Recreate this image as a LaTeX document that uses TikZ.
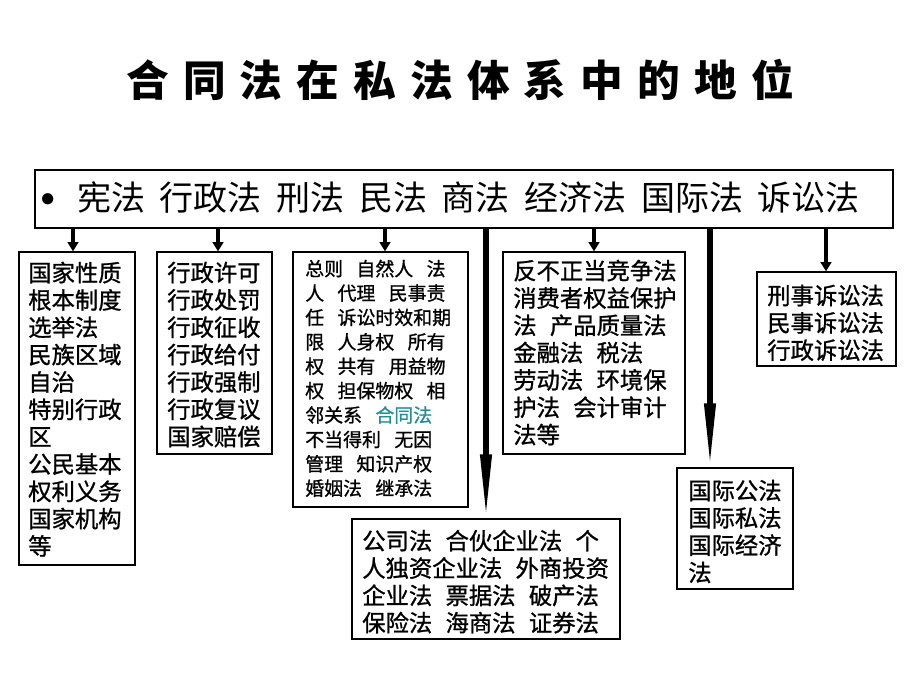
\documentclass[tikz,border=0pt]{standalone}
\usepackage{fontspec}
\setmainfont{Noto Sans CJK SC}
\newfontfamily\boxfont{Noto Sans CJK SC}[FakeBold=1]
\usetikzlibrary{arrows.meta,fit}
\definecolor{hetong}{RGB}{38,140,150}
\newcommand\gap{\hspace{10pt}}
\newcommand\mgap{\hspace{11pt}}
\newcommand\tgap{\hspace{10.6pt}}
\begin{document}
\begin{tikzpicture}[x=0.75pt,y=-0.75pt,
  box/.style={draw=black, line width=0.9pt, inner sep=0pt},
  mainbox/.style={draw=black, line width=1.1pt, inner sep=0pt},
  txt/.style={inner sep=0pt, anchor=north west, align=left, font=\boxfont\fontsize{17.5pt}{20.5pt}\selectfont},
  smalltxt/.style={inner sep=0pt, anchor=north west, align=left, font=\boxfont\fontsize{14.2pt}{18.3pt}\selectfont},
  sarr/.style={line width=2.4pt, -{Triangle[length=7pt,width=8pt]}},
  barr/.style={line width=3.8pt, -{Triangle[length=48pt,width=8pt]}}]
\useasboundingbox (0,0) rectangle (920,690);
% title
\node[font=\fontsize{32pt}{36pt}\selectfont\bfseries, inner sep=0pt] (title) at (460,80)
  {合\tgap 同\tgap 法\tgap 在\tgap 私\tgap 法\tgap 体\tgap 系\tgap 中\tgap 的\tgap 地\tgap 位};
% main box
\node[mainbox, fit={(35,170) (893,228)}] (main) {};
\node[inner sep=0pt, font=\fontsize{40pt}{44pt}\selectfont] (bullet) at (48,207) {•};
\node[inner sep=0pt, anchor=west, font=\fontsize{25.5pt}{28pt}\selectfont] (maintext) at (77,198)
  {宪法\mgap 行政法\mgap 刑法\mgap 民法\mgap 商法\mgap 经济法\mgap 国际法\mgap 诉讼法};
% boxes
\node[box, fit={(19,252) (135,565)}] (b1) {};
\node[txt] (t1) at (28,261.5) {国家性质\\根本制度\\选举法\\民族区域\\自治\\特别行政\\区\\公民基本\\权利义务\\国家机构\\等};
\node[box, fit={(157,252) (272,454)}] (b2) {};
\node[txt] (t2) at (167,261.5) {行政许可\\行政处罚\\行政征收\\行政给付\\行政强制\\行政复议\\国家赔偿};
\node[box, fit={(293,252) (468,507)}] (b3) {};
\node[smalltxt] (t3) at (305,259.5) {总则\gap 自然人\gap 法\\人\gap 代理\gap 民事责\\任\gap 诉讼时效和期\\限\gap 人身权\gap 所有\\权\gap 共有\gap 用益物\\权\gap 担保物权\gap 相\\邻关系\gap \textcolor{hetong}{合同法}\\不当得利\gap 无因\\管理\gap 知识产权\\婚姻法\gap 继承法};
\node[box, fit={(503,252) (685,454)}] (b4) {};
\node[txt] (t4) at (513,259.5) {反不正当竞争法\\消费者权益保护\\法\gap 产品质量法\\金融法\gap 税法\\劳动法\gap 环境保\\护法\gap 会计审计\\法等};
\node[box, fit={(352,519) (620,639)}] (b5) {};
\node[txt] (t5) at (362,529.5) {公司法\gap 合伙企业法\gap 个\\人独资企业法\gap 外商投资\\企业法\gap 票据法\gap 破产法\\保险法\gap 海商法\gap 证券法};
\node[box, fit={(677,468) (793,589)}] (b6) {};
\node[txt] (t6) at (688,479.5) {国际公法\\国际私法\\国际经济\\法};
\node[box, fit={(757,272) (896,366)}] (b7) {};
\node[txt] (t7) at (767,284.5) {刑事诉讼法\\民事诉讼法\\行政诉讼法};
% arrow x positions
\coordinate (p1) at (73,0);
\coordinate (p2) at (218,0);
\coordinate (p3) at (385,0);
\coordinate (p5) at (486,0);
\coordinate (p4) at (594,0);
\coordinate (p6) at (710,0);
\coordinate (p7) at (826,0);
\draw[sarr] (main.south -| p1) -- (b1.north -| p1);
\draw[sarr] (main.south -| p2) -- (b2.north -| p2);
\draw[sarr] (main.south -| p3) -- (b3.north -| p3);
\draw[sarr] (main.south -| p4) -- (b4.north -| p4);
\draw[sarr] (main.south -| p7) -- (b7.north -| p7);
\draw[barr] (main.south -| p5) -- (b5.north -| p5);
\draw[barr] (main.south -| p6) -- (b6.north -| p6);
\end{tikzpicture}
\end{document}
